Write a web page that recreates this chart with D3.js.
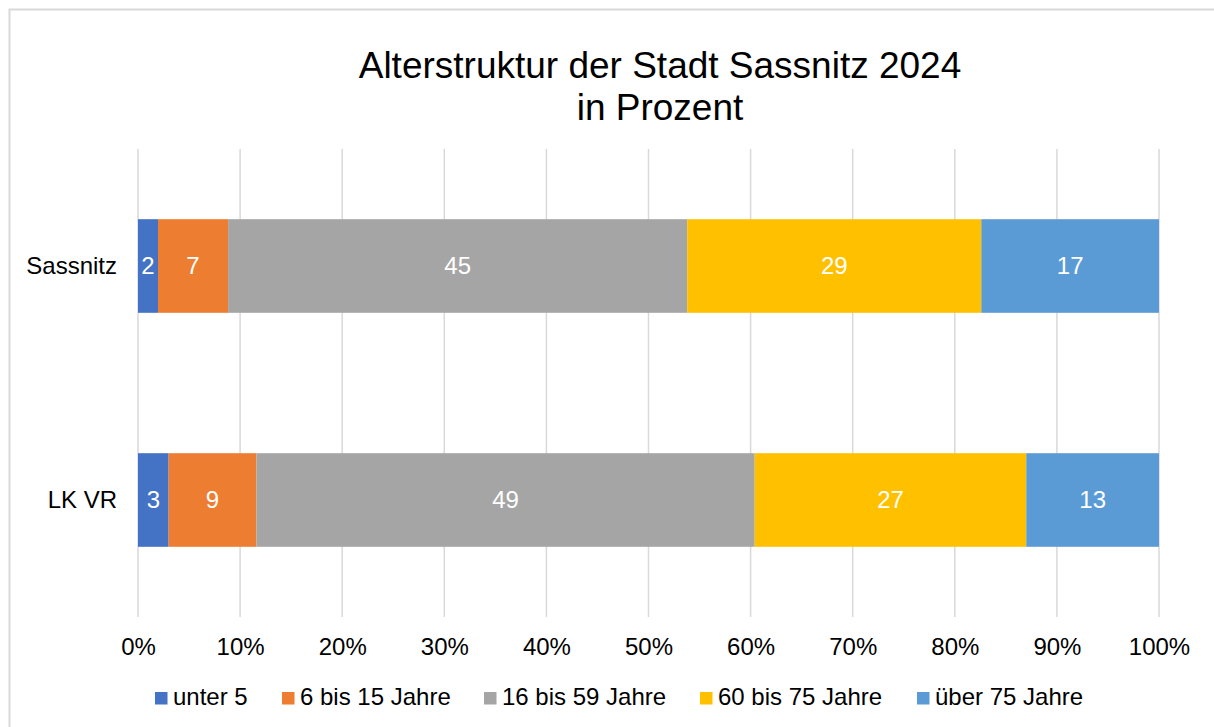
<!DOCTYPE html>
<html>
<head>
<meta charset="utf-8">
<script src="https://cdn.jsdelivr.net/npm/d3@7"></script>
<style>
  html, body { margin: 0; padding: 0; background: #fff; }
  #chart { width: 1214px; height: 727px; }
  text { font-family: "Liberation Sans", Arial, sans-serif; }
</style>
</head>
<body>
<div id="chart"></div>
<script>
'use strict';

// Data (percent shares)
const categories = ['Sassnitz', 'LK VR'];
const seriesNames = ['unter 5', '6 bis 15 Jahre', '16 bis 59 Jahre', '60 bis 75 Jahre', 'über 75 Jahre'];
const unter5 = [1.96, 3.0];
const age6to15 = [6.86, 8.6];
const age16to59 = [44.96, 48.8];
const age60to75 = [28.8, 26.6];
const over75 = [17.4, 13.0];
const xTicks = [0, 0.1, 0.2, 0.3, 0.4, 0.5, 0.6, 0.7, 0.8, 0.9, 1];
const titleLines = ['Alterstruktur der Stadt Sassnitz 2024', 'in Prozent'];

const COLORS = ['#4472C4', '#ED7D31', '#A5A5A5', '#FFC000', '#5B9BD5'];
const FONT = '"Liberation Sans", Arial, sans-serif';

const W = 1214, H = 727;
const PLOT = { left: 138, right: 1159, top: 149, bottom: 617 };

const seriesValues = [unter5, age6to15, age16to59, age60to75, over75];
const rows = categories.map((c, i) => {
  const r = { category: c };
  seriesNames.forEach((s, k) => { r[s] = seriesValues[k][i]; });
  return r;
});

const stack = d3.stack().keys(seriesNames).offset(d3.stackOffsetExpand);
const layers = stack(rows);

const x = d3.scaleLinear().domain([0, 1]).range([PLOT.left, PLOT.right]);
const y = d3.scaleBand().domain(categories).range([PLOT.top, PLOT.bottom]).paddingInner(0.6).paddingOuter(0.3);

const svg = d3.select('#chart').append('svg').attr('width', W).attr('height', H);

// chart area border
svg.append('rect')
  .attr('x', 9.5).attr('y', 9.5)
  .attr('width', W + 20).attr('height', H + 20)
  .attr('fill', '#fff')
  .attr('stroke', '#d9d9d9')
  .attr('stroke-width', 2);

// title
svg.append('text')
  .attr('x', 660).attr('y', 78)
  .attr('text-anchor', 'middle')
  .attr('font-size', '37px')
  .attr('fill', '#000')
  .selectAll('tspan')
  .data(titleLines)
  .join('tspan')
  .attr('x', 660)
  .attr('dy', (d, i) => i === 0 ? 0 : 42)
  .text(d => d);

// gridlines
svg.append('g')
  .selectAll('line')
  .data(xTicks)
  .join('line')
  .attr('x1', d => x(d)).attr('x2', d => x(d))
  .attr('y1', PLOT.top).attr('y2', PLOT.bottom)
  .attr('stroke', '#d9d9d9')
  .attr('stroke-width', 1.5);

// x axis labels
const xAxis = svg.append('g')
  .attr('transform', `translate(0,${PLOT.bottom})`)
  .call(d3.axisBottom(x).tickValues(xTicks).tickFormat(d3.format('.0%')).tickSize(0));
xAxis.select('.domain').remove();
xAxis.selectAll('text')
  .attr('y', 38).attr('dy', 0)
  .attr('font-family', FONT)
  .attr('font-size', '24px')
  .attr('fill', '#000');

// y axis labels
const yAxis = svg.append('g')
  .attr('transform', `translate(${PLOT.left},0)`)
  .call(d3.axisLeft(y).tickSize(0).tickPadding(21));
yAxis.select('.domain').remove();
yAxis.selectAll('text')
  .attr('font-family', FONT)
  .attr('font-size', '24px')
  .attr('fill', '#000');

// bars
const layerG = svg.append('g')
  .selectAll('g')
  .data(layers)
  .join('g')
  .attr('fill', (d, i) => COLORS[i]);

layerG.selectAll('rect')
  .data(d => d)
  .join('rect')
  .attr('x', d => x(d[0]))
  .attr('y', d => y(d.data.category))
  .attr('width', d => x(d[1]) - x(d[0]))
  .attr('height', y.bandwidth());

// data labels
layerG.each(function (layer) {
  d3.select(this).selectAll('text')
    .data(layer)
    .join('text')
    .attr('x', d => (x(d[0]) + x(d[1])) / 2)
    .attr('y', d => y(d.data.category) + y.bandwidth() / 2)
    .attr('dy', '0.35em')
    .attr('text-anchor', 'middle')
    .attr('font-size', '24px')
    .attr('fill', '#fff')
    .text(d => Math.round(d.data[layer.key]));
});

// legend
const legendX = [155, 282, 484, 700, 917];
const legend = svg.append('g')
  .selectAll('g')
  .data(seriesNames)
  .join('g')
  .attr('transform', (d, i) => `translate(${legendX[i]},705)`);

legend.append('rect')
  .attr('x', 0).attr('y', -13)
  .attr('width', 12.5).attr('height', 12.5)
  .attr('fill', (d, i) => COLORS[i]);

legend.append('text')
  .attr('x', 18)
  .attr('font-size', '24px')
  .attr('fill', '#000')
  .text(d => d);
</script>
</body>
</html>
